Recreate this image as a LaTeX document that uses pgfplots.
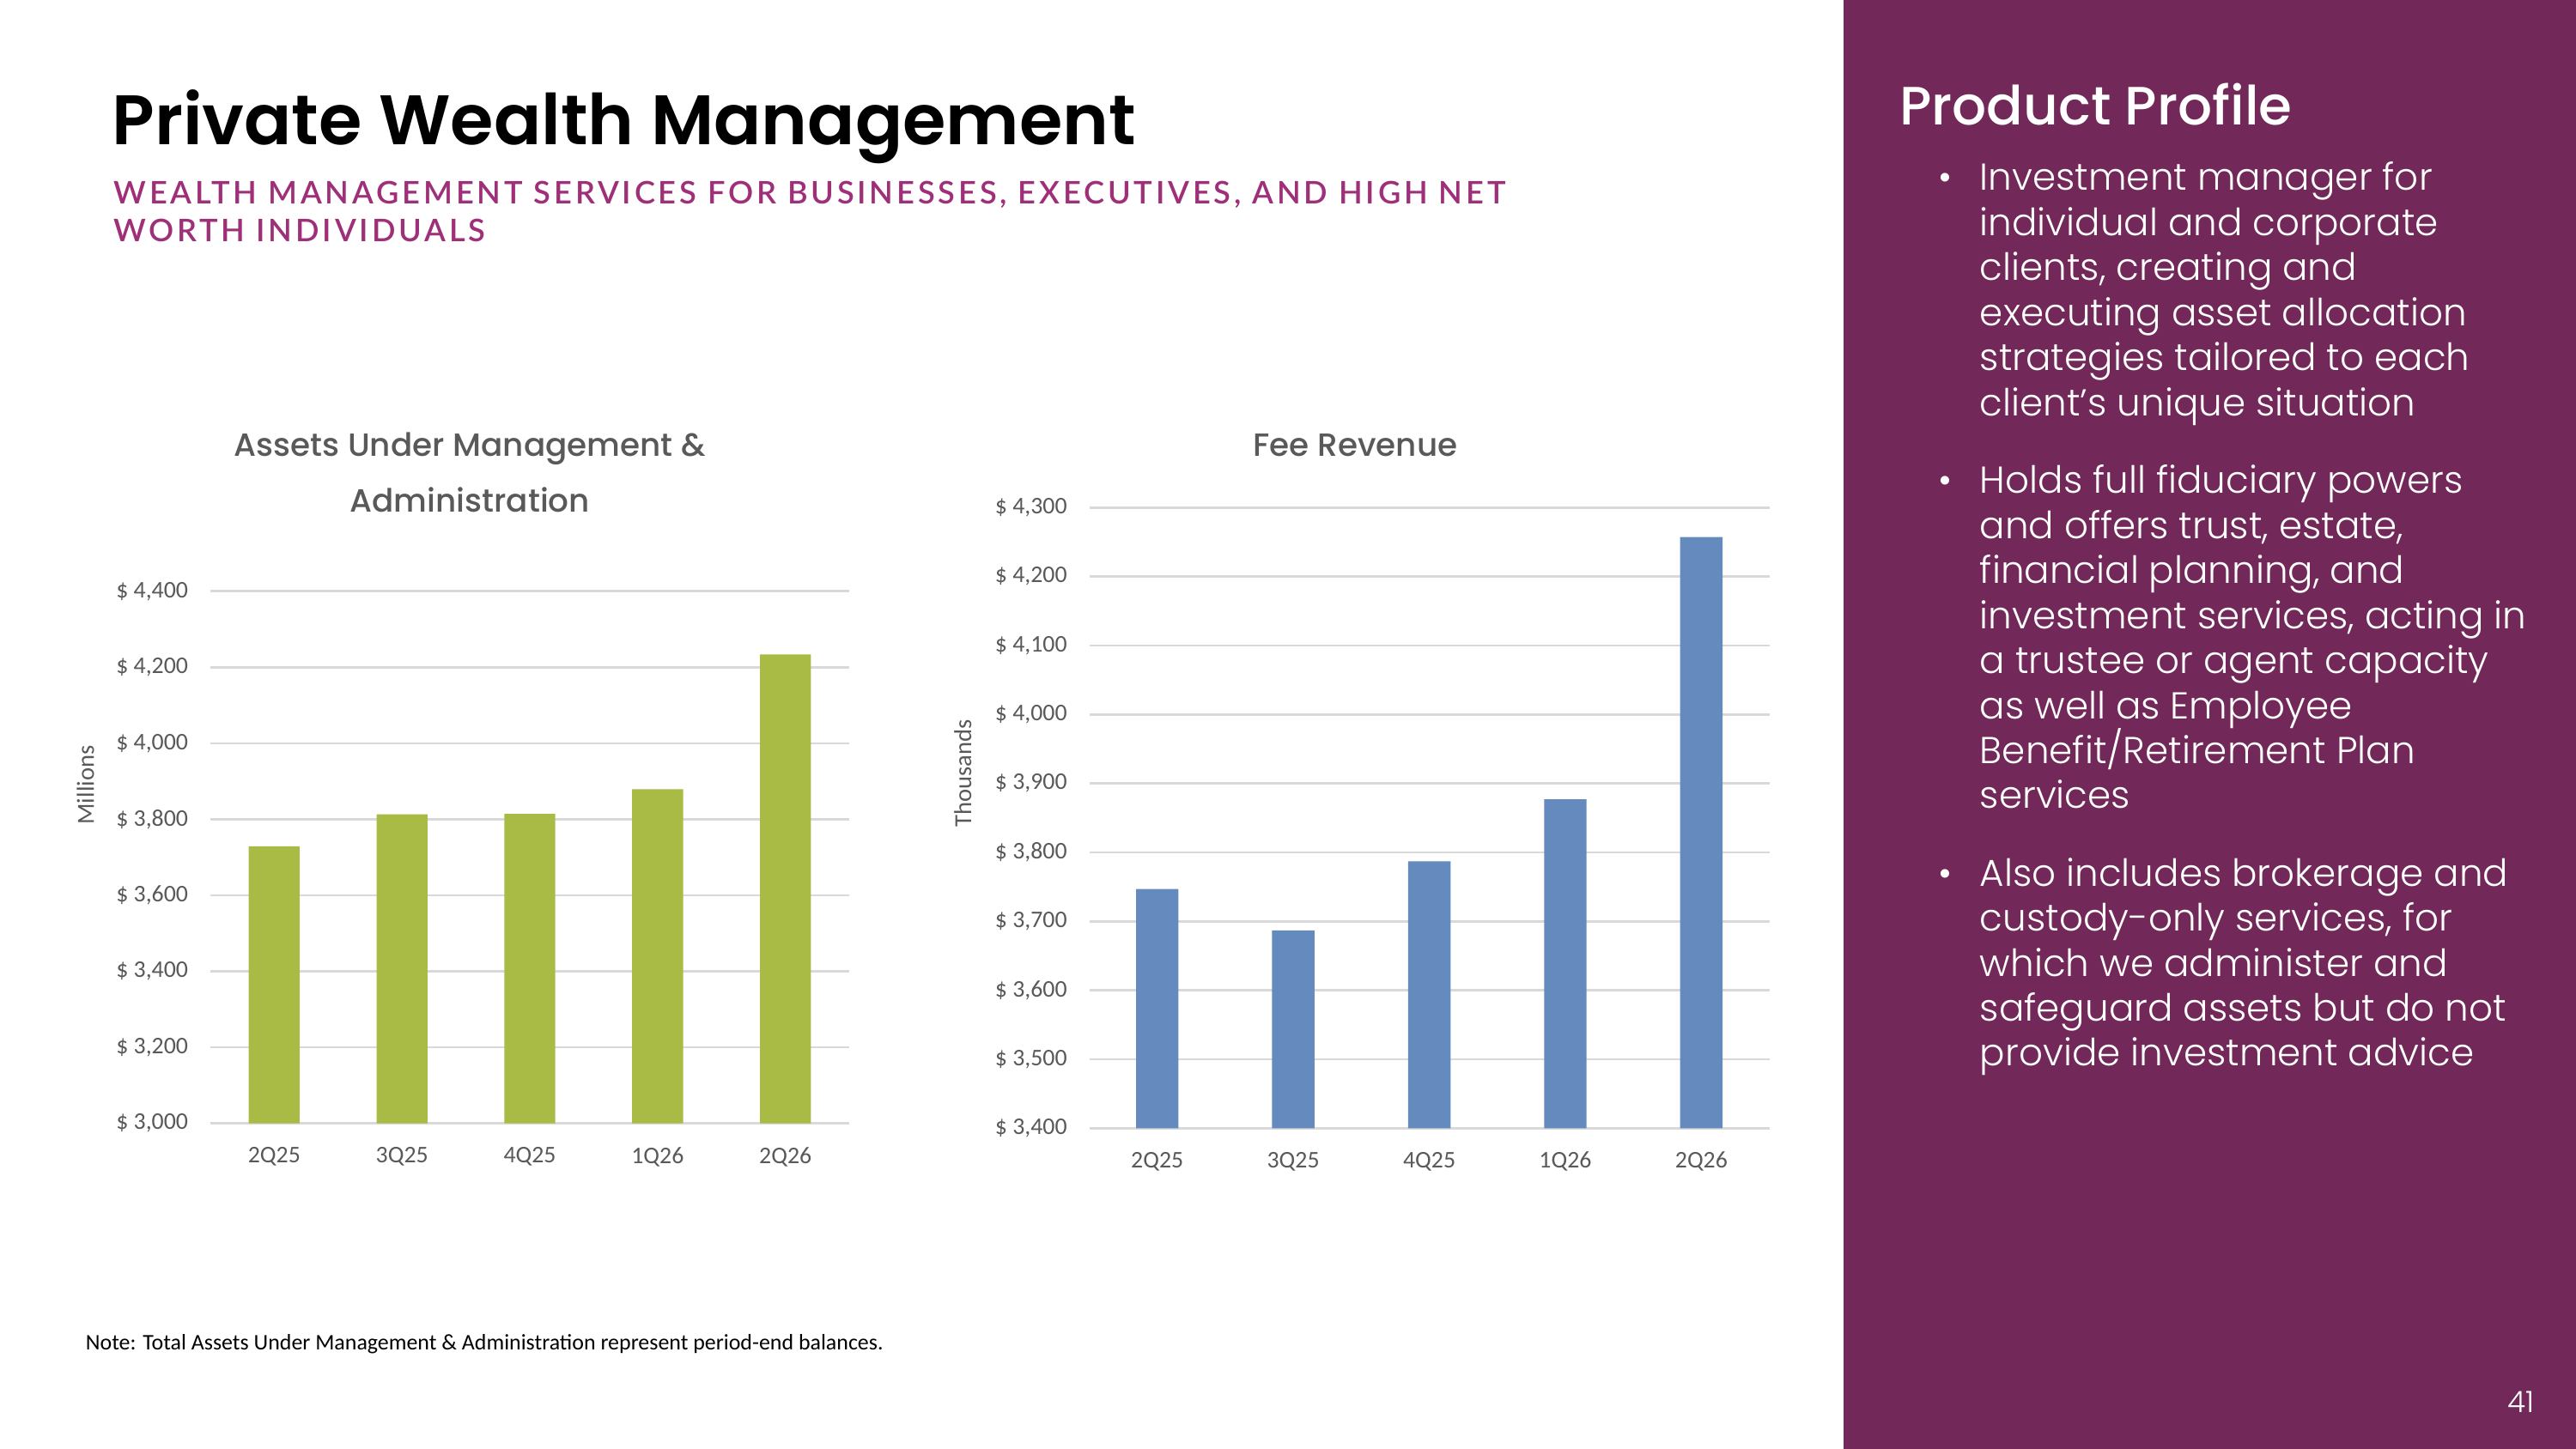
\documentclass[border=0pt]{standalone}
\usepackage{fontspec}
\usepackage{pgfplots}
\pgfplotsset{compat=1.18}
\setmainfont{Carlito}
\newfontfamily\popsb{Poppins SemiBold}
\newfontfamily\popmed{Poppins Medium}
\newfontfamily\poplight{Poppins Light}
\newfontfamily\subfont{Lato Semibold}[LetterSpace=10.5]
\definecolor{panel}{HTML}{722858}
\definecolor{magen}{HTML}{9E2F78}
\definecolor{gridgray}{HTML}{D9D9D9}
\definecolor{tickgray}{HTML}{595959}
\definecolor{titlegray}{HTML}{595959}
\definecolor{barg}{HTML}{A9BB44}
\definecolor{barb}{HTML}{658BBE}
\pgfplotsset{
  slide/.style={
    scale only axis, ybar, clip=false,
    xmin=-0.5, xmax=4.5,
    xtick={0,1,2,3,4}, xticklabels={2Q25,3Q25,4Q25,1Q26,2Q26},
    axis line style={draw=none}, major tick length=0pt,
    ymajorgrids, grid style={gridgray, line width=1.4bp},
    tick label style={font=\fontsize{14.6}{16}\selectfont, text=tickgray},
    /pgf/number format/.cd, 1000 sep={,}, assume math mode=true,
    /pgfplots/.cd,
    yticklabel={\$ \pgfmathprintnumber{\tick}},
    yticklabel style={xshift=-10bp},
    xticklabel style={yshift=-11bp},
  }
}
\begin{document}
\begin{tikzpicture}[x=1bp,y=1bp]
\useasboundingbox (0,0) rectangle (1568,882);
\fill[white] (0,0) rectangle (1568,882);
\fill[panel] (1122,0) rectangle (1568,882);
% header
\node[anchor=base west, inner sep=0pt, font=\popsb\fontsize{42.8}{48}\selectfont] at (68,794) {Private Wealth Management};
\node[anchor=base west, inner sep=0pt, text=magen, font=\subfont\fontsize{19}{22}\selectfont] at (69,758) {WEALTH MANAGEMENT SERVICES FOR BUSINESSES, EXECUTIVES, AND HIGH NET};
\node[anchor=base west, inner sep=0pt, text=magen, font=\subfont\fontsize{19}{22}\selectfont] at (69,735) {WORTH INDIVIDUALS};
% chart titles
\node[anchor=base, inner sep=0pt, text=titlegray, font=\popmed\fontsize{19.6}{21}\selectfont] at (286,604) {Assets Under Management \&};
\node[anchor=base, inner sep=0pt, text=titlegray, font=\popmed\fontsize{19.6}{21}\selectfont] at (286,570) {Administration};
\node[anchor=base, inner sep=0pt, text=titlegray, font=\popmed\fontsize{19.6}{21}\selectfont] at (825,604) {Fee Revenue};
% axis labels
\node[rotate=90, inner sep=0pt, text=tickgray, font=\fontsize{15}{17}\selectfont] at (52,404) {Millions};
\node[rotate=90, inner sep=0pt, text=tickgray, font=\fontsize{15}{17}\selectfont] at (586,411) {Thousands};
% left chart
\begin{axis}[slide, at={(128bp,198bp)}, anchor=south west,
  width=389bp, height=324bp, ymin=3000, ymax=4400,
  ytick={3000,3200,...,4400}, bar width=31bp]
\addplot[draw=none, fill=barg] coordinates {(0,3729) (1,3813) (2,3814) (3,3879) (4,4234)};
\end{axis}
% right chart
\begin{axis}[slide, at={(663bp,195bp)}, anchor=south west,
  width=414bp, height=378bp, ymin=3400, ymax=4300,
  ytick={3400,3500,...,4300}, bar width=25.8bp]
\addplot[draw=none, fill=barb] coordinates {(0,3747) (1,3687) (2,3787) (3,3877) (4,4257)};
\end{axis}
% note
\node[anchor=base west, inner sep=0pt, font=\fontsize{13.6}{15}\selectfont] at (52,60) {Note: Total Assets Under Management \& Administration represent period-end balances.};
% panel
\node[anchor=base west, inner sep=0pt, text=white, font=\popmed\fontsize{33}{36}\selectfont] at (1156,806) {Product Profile};
\foreach \yy/\tt in {
  766/{Investment manager for}, 738.6/{individual and corporate}, 711.2/{clients, creating and},
  683.8/{executing asset allocation}, 656.4/{strategies tailored to each}, 629/{client’s unique situation},
  581.5/{Holds full fiduciary powers}, 554.1/{and offers trust, estate,}, 526.7/{financial planning, and},
  499.3/{investment services, acting in}, 471.9/{a trustee or agent capacity}, 444.5/{as well as Employee},
  417.1/{Benefit/Retirement Plan}, 389.7/{services},
  342.5/{Also includes brokerage and}, 315.1/{custody-only services, for}, 287.7/{which we administer and},
  260.3/{safeguard assets but do not}, 232.9/{provide investment advice}}
  {\node[anchor=base west, inner sep=0pt, text=white, font=\poplight\fontsize{22.9}{27}\selectfont] at (1205,\yy) {\tt};}
\foreach \yy in {766,581.5,342.5}
  {\node[anchor=base, inner sep=0pt, text=white, font=\poplight\fontsize{22.9}{27}\selectfont] at (1184,\yy) {•};}
\node[anchor=base east, inner sep=0pt, text=white, font=\poplight\fontsize{18}{20}\selectfont] at (1543,22) {41};
\end{tikzpicture}
\end{document}
